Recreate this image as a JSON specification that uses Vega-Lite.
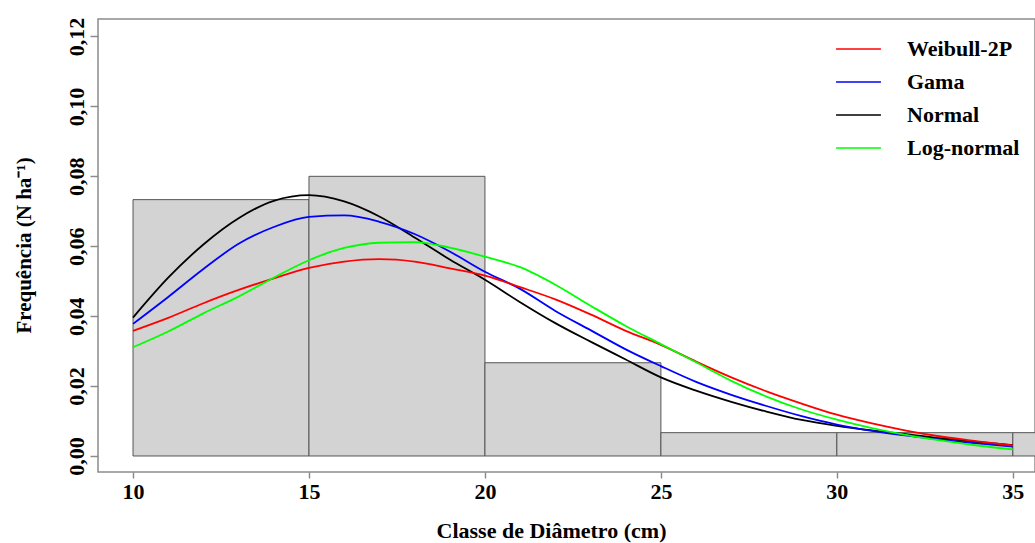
{
  "$schema": "https://vega.github.io/schema/vega-lite/v6.json",
  "autosize": "none",
  "padding": {"left": 98, "top": 19, "right": 0, "bottom": 71},
  "width": 937,
  "height": 453,
  "background": "white",
  "datasets": {
    "bars": [
      {"x": 10, "xend": 15, "y": 0.07333},
      {"x": 15, "xend": 20, "y": 0.08},
      {"x": 20, "xend": 25, "y": 0.02667},
      {"x": 25, "xend": 30, "y": 0.00667},
      {"x": 30, "xend": 35, "y": 0.00667},
      {"x": 35, "xend": 40, "y": 0.00667}
    ],
    "curves": [
      {"dist": "Normal", "x": 10, "y": 0.0396},
      {"dist": "Normal", "x": 11, "y": 0.0510},
      {"dist": "Normal", "x": 12, "y": 0.0605},
      {"dist": "Normal", "x": 13, "y": 0.0680},
      {"dist": "Normal", "x": 14, "y": 0.0730},
      {"dist": "Normal", "x": 15, "y": 0.0746},
      {"dist": "Normal", "x": 16, "y": 0.0728},
      {"dist": "Normal", "x": 17, "y": 0.0685},
      {"dist": "Normal", "x": 18, "y": 0.0625},
      {"dist": "Normal", "x": 19, "y": 0.0562},
      {"dist": "Normal", "x": 20, "y": 0.0504},
      {"dist": "Normal", "x": 21, "y": 0.0440},
      {"dist": "Normal", "x": 22, "y": 0.0380},
      {"dist": "Normal", "x": 23, "y": 0.0327},
      {"dist": "Normal", "x": 24, "y": 0.0276},
      {"dist": "Normal", "x": 25, "y": 0.0225},
      {"dist": "Normal", "x": 26, "y": 0.0187},
      {"dist": "Normal", "x": 27, "y": 0.0155},
      {"dist": "Normal", "x": 28, "y": 0.0127},
      {"dist": "Normal", "x": 29, "y": 0.0103},
      {"dist": "Normal", "x": 30, "y": 0.0086},
      {"dist": "Normal", "x": 31, "y": 0.0073},
      {"dist": "Normal", "x": 32, "y": 0.0062},
      {"dist": "Normal", "x": 33, "y": 0.0050},
      {"dist": "Normal", "x": 34, "y": 0.0040},
      {"dist": "Normal", "x": 35, "y": 0.0031},
      {"dist": "Gama", "x": 10, "y": 0.0378},
      {"dist": "Gama", "x": 11, "y": 0.0455},
      {"dist": "Gama", "x": 12, "y": 0.0535},
      {"dist": "Gama", "x": 13, "y": 0.0607},
      {"dist": "Gama", "x": 14, "y": 0.0655},
      {"dist": "Gama", "x": 15, "y": 0.0684},
      {"dist": "Gama", "x": 16, "y": 0.0688},
      {"dist": "Gama", "x": 17, "y": 0.0670},
      {"dist": "Gama", "x": 18, "y": 0.0635},
      {"dist": "Gama", "x": 19, "y": 0.0585},
      {"dist": "Gama", "x": 20, "y": 0.0527},
      {"dist": "Gama", "x": 21, "y": 0.0478},
      {"dist": "Gama", "x": 22, "y": 0.0415},
      {"dist": "Gama", "x": 23, "y": 0.0360},
      {"dist": "Gama", "x": 24, "y": 0.0305},
      {"dist": "Gama", "x": 25, "y": 0.0257},
      {"dist": "Gama", "x": 26, "y": 0.0212},
      {"dist": "Gama", "x": 27, "y": 0.0175},
      {"dist": "Gama", "x": 28, "y": 0.0143},
      {"dist": "Gama", "x": 29, "y": 0.0114},
      {"dist": "Gama", "x": 30, "y": 0.0090},
      {"dist": "Gama", "x": 31, "y": 0.0072},
      {"dist": "Gama", "x": 32, "y": 0.0058},
      {"dist": "Gama", "x": 33, "y": 0.0046},
      {"dist": "Gama", "x": 34, "y": 0.0036},
      {"dist": "Gama", "x": 35, "y": 0.0027},
      {"dist": "Weibull-2P", "x": 10, "y": 0.0358},
      {"dist": "Weibull-2P", "x": 11, "y": 0.0395},
      {"dist": "Weibull-2P", "x": 12, "y": 0.0437},
      {"dist": "Weibull-2P", "x": 13, "y": 0.0475},
      {"dist": "Weibull-2P", "x": 14, "y": 0.0508},
      {"dist": "Weibull-2P", "x": 15, "y": 0.0538},
      {"dist": "Weibull-2P", "x": 16, "y": 0.0556},
      {"dist": "Weibull-2P", "x": 17, "y": 0.0563},
      {"dist": "Weibull-2P", "x": 18, "y": 0.0556},
      {"dist": "Weibull-2P", "x": 19, "y": 0.0537},
      {"dist": "Weibull-2P", "x": 20, "y": 0.0516},
      {"dist": "Weibull-2P", "x": 21, "y": 0.0483},
      {"dist": "Weibull-2P", "x": 22, "y": 0.0448},
      {"dist": "Weibull-2P", "x": 23, "y": 0.0405},
      {"dist": "Weibull-2P", "x": 24, "y": 0.0358},
      {"dist": "Weibull-2P", "x": 25, "y": 0.0318},
      {"dist": "Weibull-2P", "x": 26, "y": 0.0270},
      {"dist": "Weibull-2P", "x": 27, "y": 0.0225},
      {"dist": "Weibull-2P", "x": 28, "y": 0.0185},
      {"dist": "Weibull-2P", "x": 29, "y": 0.0150},
      {"dist": "Weibull-2P", "x": 30, "y": 0.0118},
      {"dist": "Weibull-2P", "x": 31, "y": 0.0093},
      {"dist": "Weibull-2P", "x": 32, "y": 0.0072},
      {"dist": "Weibull-2P", "x": 33, "y": 0.0055},
      {"dist": "Weibull-2P", "x": 34, "y": 0.0042},
      {"dist": "Weibull-2P", "x": 35, "y": 0.0030},
      {"dist": "Log-normal", "x": 10, "y": 0.0311},
      {"dist": "Log-normal", "x": 11, "y": 0.0356},
      {"dist": "Log-normal", "x": 12, "y": 0.0408},
      {"dist": "Log-normal", "x": 13, "y": 0.0456},
      {"dist": "Log-normal", "x": 14, "y": 0.0510},
      {"dist": "Log-normal", "x": 15, "y": 0.0560},
      {"dist": "Log-normal", "x": 16, "y": 0.0595},
      {"dist": "Log-normal", "x": 17, "y": 0.0610},
      {"dist": "Log-normal", "x": 18, "y": 0.0612},
      {"dist": "Log-normal", "x": 19, "y": 0.0596},
      {"dist": "Log-normal", "x": 20, "y": 0.0570},
      {"dist": "Log-normal", "x": 21, "y": 0.0540},
      {"dist": "Log-normal", "x": 22, "y": 0.0490},
      {"dist": "Log-normal", "x": 23, "y": 0.0430},
      {"dist": "Log-normal", "x": 24, "y": 0.0372},
      {"dist": "Log-normal", "x": 25, "y": 0.0320},
      {"dist": "Log-normal", "x": 26, "y": 0.0268},
      {"dist": "Log-normal", "x": 27, "y": 0.0215},
      {"dist": "Log-normal", "x": 28, "y": 0.0170},
      {"dist": "Log-normal", "x": 29, "y": 0.0133},
      {"dist": "Log-normal", "x": 30, "y": 0.0104},
      {"dist": "Log-normal", "x": 31, "y": 0.0080},
      {"dist": "Log-normal", "x": 32, "y": 0.0060},
      {"dist": "Log-normal", "x": 33, "y": 0.0044},
      {"dist": "Log-normal", "x": 34, "y": 0.0030},
      {"dist": "Log-normal", "x": 35, "y": 0.0019}
    ]
  },
  "encoding": {
    "x": {
      "field": "x",
      "type": "quantitative",
      "scale": {"domain": [9.005, 35.63], "nice": false, "zero": false},
      "axis": {
        "title": "Classe de Diâmetro (cm)",
        "values": [10, 15, 20, 25, 30, 35],
        "grid": false,
        "domain": false,
        "tickSize": 6,
        "tickColor": "#8c8c8c",
        "tickWidth": 1.5,
        "labelPadding": 3,
        "labelFontSize": 22,
        "labelFont": "Liberation Serif",
        "labelFontWeight": "bold",
        "labelColor": "black",
        "titleFontSize": 22,
        "titleFont": "Liberation Serif",
        "titleFontWeight": "bold",
        "titleColor": "black",
        "titleX": 453,
        "titleY": 58,
        "titleBaseline": "middle",
        "titleAlign": "center"
      }
    },
    "y": {
      "field": "y",
      "type": "quantitative",
      "scale": {"domain": [-0.00458, 0.125], "nice": false, "zero": false},
      "axis": {
        "title": "Frequência (N ha⁻¹)",
        "values": [0, 0.02, 0.04, 0.06, 0.08, 0.1, 0.12],
        "labelExpr": "replace(format(datum.value, '.2f'), '.', ',')",
        "grid": false,
        "domain": false,
        "tickSize": 8,
        "tickColor": "#8c8c8c",
        "tickWidth": 1.5,
        "labelPadding": 7,
        "labelAngle": -90,
        "labelAlign": "center",
        "labelBaseline": "alphabetic",
        "labelFontSize": 22,
        "labelFont": "Liberation Serif",
        "labelFontWeight": "bold",
        "labelColor": "black",
        "titleFontSize": 21,
        "titleFont": "Liberation Serif",
        "titleFontWeight": "bold",
        "titleColor": "black",
        "titleAngle": -90,
        "titleX": -74,
        "titleY": 226,
        "titleAlign": "center",
        "titleBaseline": "middle"
      }
    }
  },
  "layer": [
    {
      "data": {"name": "bars"},
      "mark": {"type": "bar", "fill": "#d3d3d3", "stroke": "#555555", "strokeWidth": 1, "clip": true},
      "encoding": {
        "x2": {"field": "xend"},
        "y2": {"datum": 0}
      }
    },
    {
      "data": {"name": "curves"},
      "mark": {"type": "line", "strokeWidth": 1.8, "interpolate": "monotone", "clip": true},
      "encoding": {
        "color": {
          "field": "dist",
          "type": "nominal",
          "scale": {
            "domain": ["Weibull-2P", "Gama", "Normal", "Log-normal"],
            "range": ["#ff0000", "#0000ff", "#000000", "#00ff00"]
          },
          "legend": {
            "title": null,
            "orient": "none",
            "legendX": 743,
            "legendY": 12.5,
            "padding": 0,
            "symbolType": "M-1.36,0H1.36",
            "symbolSize": 1089,
            "symbolStrokeWidth": 1.5,
            "labelOffset": 31,
            "rowPadding": 4,
            "labelFontSize": 22,
            "labelFont": "Liberation Serif",
            "labelFontWeight": "bold",
            "labelColor": "black",
            "labelBaseline": "middle"
          }
        }
      }
    }
  ],
  "config": {
    "view": {"stroke": "#8c8c8c", "strokeWidth": 1.5}
  }
}
